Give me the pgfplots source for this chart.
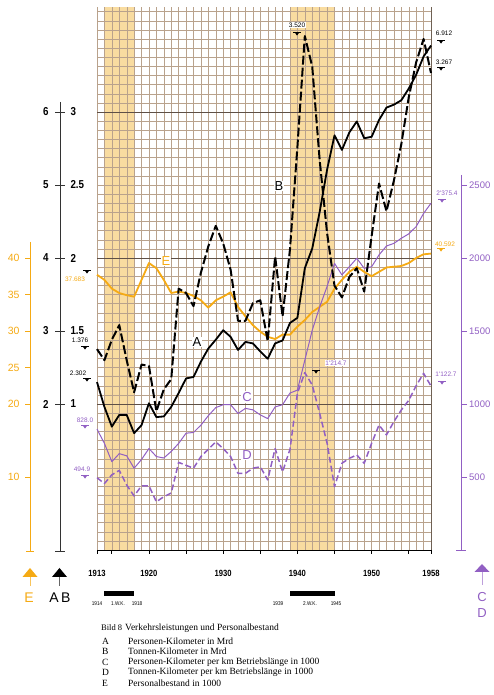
\documentclass[border=0pt]{standalone}
\usepackage{pgfplots}
\pgfplotsset{compat=1.18}
\usepackage{fontspec}
\setmainfont{Liberation Serif}
\setsansfont{Liberation Sans}
\newfontfamily\nf[FakeStretch=0.85]{Liberation Sans}
\newfontfamily\ssf{Liberation Sans}
\definecolor{eorange}{RGB}{245,170,20}
\definecolor{cpurple}{RGB}{145,95,195}
\definecolor{band}{RGB}{249,220,160}
\definecolor{gridc}{RGB}{185,162,140}
\definecolor{darkl}{RGB}{95,80,70}
\pgfplotsset{base/.style={scale only axis, width=334pt, height=543pt, at={(97pt,145pt)}, anchor=south west, xmin=1913, xmax=1958, clip=false}}
\newcommand{\mk}[3]{\begin{scope}[shift={(#1pt,#2pt)}]\draw[#3,line width=0.5pt](-4pt,2.2pt)--(4pt,2.2pt);\fill[#3](-2.3pt,1.6pt)--(2.3pt,1.6pt)--(0,-1.6pt)--cycle;\end{scope}}
\newcommand{\fs}[1]{\fontsize{#1}{#1}\selectfont}
\begin{document}
\begin{tikzpicture}[x=1pt,y=1pt]
\useasboundingbox (0,0) rectangle (493,695);
% bands
\begin{axis}[base, ymin=0, ymax=7.438, hide axis]
\fill[band] (axis cs:1914,0) rectangle (axis cs:1918,7.438);
\fill[band] (axis cs:1939,0) rectangle (axis cs:1945,7.438);
\end{axis}
% main grid
\begin{axis}[base, ymin=0, ymax=7.438, xtick={1913,1914,...,1958}, ytick={0,0.125,...,7.4}, xticklabels={}, yticklabels={}, major tick length=0pt, grid=major, major grid style={draw=gridc, line width=0.3pt}, axis line style={draw=none}]
\draw[darkl, line width=0.7pt] (axis cs:1913,2) -- (axis cs:1958,2);
\draw[darkl, line width=0.7pt] (axis cs:1913,4) -- (axis cs:1958,4);
\draw[darkl, line width=0.7pt] (axis cs:1913,6) -- (axis cs:1954.3,6);
\draw[gridc!60!black, line width=0.6pt] (axis cs:1958,0) -- (axis cs:1958,7.438);
\draw[black, line width=0.8pt] (axis cs:1913,0) -- (axis cs:1958,0);
\pgfplotsinvokeforeach{1913,1915,1920,1925,1930,1935,1940,1945,1950,1955,1958}{\draw[black, line width=0.8pt] (axis cs:#1,0) -- ([yshift=-4pt]axis cs:#1,0);}
\pgfplotsinvokeforeach{1913,1920,1930,1940,1950,1958}{\node[font=\nf\bfseries\fs{9}] at ([yshift=-23pt]axis cs:#1,0) {#1};}
\end{axis}
% E
\begin{axis}[base, ymin=0, ymax=74.38, hide axis]
\addplot[eorange, line width=1.8pt, line join=round] table {
1913 37.7
1914 37.0
1915 35.8
1916 35.2
1917 34.9
1918 34.7
1919 37.0
1920 39.3
1921 38.6
1922 37.0
1923 35.2
1924 35.4
1925 35.2
1926 34.8
1927 34.2
1928 33.2
1929 34.2
1930 34.7
1931 35.3
1932 33.3
1933 32.0
1934 30.8
1935 29.9
1936 29.2
1937 28.9
1938 29.5
1939 29.5
1940 30.6
1941 31.5
1942 32.6
1943 33.3
1944 34.0
1945 35.8
1946 37.0
1947 38.1
1948 38.8
1949 38.1
1950 37.5
1951 38.1
1952 38.7
1953 38.8
1954 38.9
1955 39.3
1956 40.0
1957 40.5
1958 40.6
};
\end{axis}
% C and D
\begin{axis}[base, ymin=0, ymax=3719, hide axis]
\addplot[cpurple, line width=1pt, line join=round] table {
1913 828
1914 730
1915 605
1916 660
1917 645
1918 560
1919 620
1920 695
1921 640
1922 630
1923 675
1924 730
1925 800
1926 805
1927 855
1928 920
1929 975
1930 995
1931 995
1932 935
1933 970
1934 960
1935 925
1936 900
1937 980
1938 995
1939 1075
1940 1095
1941 1300
1942 1505
1943 1665
1944 1805
1945 1963
1946 1884
1947 1940
1948 1998
1949 1929
1950 1940
1951 2021
1952 2082
1953 2100
1954 2135
1955 2165
1956 2215
1957 2305
1958 2375
};
\addplot[cpurple, line width=1.5pt, line join=round, dash pattern=on 6pt off 3pt] table {
1913 495
1914 455
1915 515
1916 545
1917 445
1918 370
1919 440
1920 440
1921 330
1922 365
1923 390
1924 600
1925 580
1926 560
1927 640
1928 690
1929 740
1930 695
1931 640
1932 525
1933 525
1934 560
1935 570
1936 480
1937 695
1938 535
1939 690
1940 1073
1941 1215
1942 1130
1943 936
1944 731
1945 434
1946 594
1947 628
1948 651
1949 594
1950 731
1951 856
1952 788
1953 879
1954 959
1955 1025
1956 1125
1957 1210
1958 1123
};
\end{axis}
% A
\begin{axis}[base, ymin=0, ymax=7.438, hide axis]
\addplot[black, line width=1.8pt, line join=round] table {
1913 2.30
1914 1.96
1915 1.69
1916 1.85
1917 1.85
1918 1.60
1919 1.71
1920 2.01
1921 1.82
1922 1.83
1923 1.96
1924 2.15
1925 2.35
1926 2.37
1927 2.58
1928 2.76
1929 2.88
1930 3.01
1931 2.92
1932 2.74
1933 2.85
1934 2.83
1935 2.72
1936 2.62
1937 2.83
1938 2.87
1939 3.11
1940 3.18
1941 3.86
1942 4.13
1943 4.63
1944 5.21
1945 5.68
1946 5.48
1947 5.72
1948 5.87
1949 5.64
1950 5.66
1951 5.89
1952 6.06
1953 6.10
1954 6.16
1955 6.32
1956 6.51
1957 6.76
1958 6.91
};
\end{axis}
% B
\begin{axis}[base, ymin=0, ymax=3.719, hide axis]
\addplot[black, line width=2pt, line join=round, dash pattern=on 9pt off 3pt] table {
1913 1.376
1914 1.30
1915 1.44
1916 1.54
1917 1.30
1918 1.08
1919 1.27
1920 1.26
1921 0.95
1922 1.10
1923 1.17
1924 1.79
1925 1.76
1926 1.67
1927 1.90
1928 2.08
1929 2.22
1930 2.10
1931 1.92
1932 1.57
1933 1.57
1934 1.69
1935 1.71
1936 1.43
1937 2.01
1938 1.60
1939 2.06
1940 2.76
1941 3.52
1942 3.31
1943 2.67
1944 2.17
1945 1.81
1946 1.73
1947 1.87
1948 1.93
1949 1.77
1950 2.15
1951 2.51
1952 2.32
1953 2.53
1954 2.78
1955 3.10
1956 3.34
1957 3.50
1958 3.267
};
\end{axis}
% in-plot letters
\node[fill=white, inner sep=1pt, text=eorange, font=\ssf\fs{13}] at (166,434) {E};
\node[fill=white, inner sep=1pt, font=\ssf\fs{13}] at (197,353) {A};
\node[fill=white, inner sep=1pt, font=\ssf\fs{13}] at (279,509) {B};
\node[fill=white, inner sep=1pt, text=cpurple, font=\ssf\fs{13}] at (247,298) {C};
\node[fill=white, inner sep=1pt, text=cpurple, font=\ssf\fs{13}] at (247,240) {D};
% left black axis (A and B)
\draw[black!80, line width=0.8pt] (60,593) -- (60,144);
\draw[black!80, line width=0.8pt] (55,144) -- (65,144);
\foreach \a/\b [count=\i from 2] in {2/1,3/1.5,4/2,5/2.5,6/3} {
  \draw[black!80, line width=0.8pt] (55,{145+73*\i}) -- (65,{145+73*\i});
  \node[anchor=east, font=\nf\bfseries\fs{11.5}] at (52,{145+73*\i}) {\a};
  \node[anchor=west, font=\nf\bfseries\fs{11.5}] at (67,{145+73*\i}) {\b};
}
% orange axis E
\draw[eorange, line width=0.8pt] (30,453) -- (30,144);
\draw[eorange, line width=0.8pt] (26,144) -- (34,144);
\foreach \e in {10,20,25,30,35,40} {
  \draw[eorange, line width=0.8pt] (25,{145+7.3*\e}) -- (30,{145+7.3*\e});
  \node[anchor=east, text=eorange, font=\ssf\fs{10.5}] at (23,{145+7.3*\e}) {\e};
}
% purple axis C D
\draw[cpurple, line width=0.8pt] (461,520) -- (461,145);
\draw[cpurple, line width=0.8pt] (456,145) -- (466,145);
\foreach \c in {500,1000,1500,2000,2500} {
  \draw[cpurple, line width=0.8pt] (461,{145+0.146*\c}) -- (467,{145+0.146*\c});
  \node[anchor=west, inner sep=1pt, text=cpurple, font=\ssf\fs{9.5}] at (468,{145+0.146*\c}) {\c};
}
% arrows
\fill[eorange] (22.5,118) -- (37.5,118) -- (30,127) -- cycle;
\draw[eorange!70, line width=0.8pt] (30,118) -- (30,109);
\node[text=eorange, font=\ssf\fs{14}] at (29,97) {E};
\fill[black] (52,118) -- (67,118) -- (59.5,127) -- cycle;
\draw[black!60, line width=0.8pt] (59.5,118) -- (59.5,109);
\node[font=\ssf\fs{14}] at (60,97) {A\,B};
\fill[cpurple] (474.5,123) -- (489.5,123) -- (482,131) -- cycle;
\draw[cpurple!60, line width=0.8pt] (482,123) -- (482,110);
\node[text=cpurple, font=\ssf\fs{13}] at (482,98) {C};
\node[text=cpurple, font=\ssf\fs{13}] at (482,82) {D};
% war bars
\fill[black] (104.4,99) rectangle (134.1,104);
\fill[black] (290,99) rectangle (334.5,104);
\node[font=\nf\fs{5.5}] at (97,91) {1914};
\node[font=\nf\fs{5.5}] at (118,91) {1.W.K.};
\node[font=\nf\fs{5.5}] at (137,91) {1918};
\node[font=\nf\fs{5.5}] at (278,91) {1939};
\node[font=\nf\fs{5.5}] at (310,91) {2.W.K.};
\node[font=\nf\fs{5.5}] at (336,91) {1945};
% caption
\node[anchor=west, inner sep=0pt, font=\fs{8.5}] at (101,67) {Bild 8};
\node[anchor=west, inner sep=0pt, font=\fs{9.5}] at (125,67) {Verkehrsleistungen und Personalbestand};
\foreach \l/\t/\y in {A/Personen-Kilometer in Mrd/54, B/Tonnen-Kilometer in Mrd/44, C/Personen-Kilometer per km Betriebslänge in 1000/33, D/Tonnen-Kilometer per km Betriebslänge in 1000/23, E/Personalbestand in 1000/12} {
  \node[anchor=west, inner sep=0pt, font=\fs{9.5}] at (102,\y) {\l};
  \node[anchor=west, inner sep=0pt, font=\fs{9.5}] at (128,\y) {\t};
}
% value annotations
\node[text=eorange, font=\ssf\fs{6.5}] at (75,416) {37.683}; \mk{87}{423}{black}
\node[font=\ssf\fs{6.5}] at (80,355) {1.376}; \mk{85}{347}{black}
\node[font=\ssf\fs{6.5}] at (78,322) {2.302}; \mk{87}{315}{black}
\node[text=cpurple, font=\ssf\fs{6.5}] at (85,275) {828.0}; \mk{85}{268}{cpurple}
\node[text=cpurple, font=\ssf\fs{6.5}] at (82,226) {494.9}; \mk{85}{218}{cpurple}
\node[fill=white, inner sep=0.5pt, font=\ssf\fs{6.5}] at (297,670) {3.520}; \mk{297}{661}{black}
\node[fill=white, inner sep=0.5pt, text=cpurple, font=\ssf\fs{6.5}] at (336,332) {1'214.7}; \mk{316}{323}{black}
\node[font=\ssf\fs{6.5}] at (444,662) {6.912}; \mk{441}{653}{black}
\node[font=\ssf\fs{6.5}] at (444,633) {3.267}; \mk{441}{626}{black}
\node[text=cpurple, font=\ssf\fs{6.5}] at (447,502) {2'375.4}; \mk{442}{494}{cpurple}
\node[text=eorange, font=\ssf\fs{6.5}] at (445,451) {40.592}; \mk{441}{445}{eorange}
\node[text=cpurple, font=\ssf\fs{6.5}] at (446,321) {1'122.7}; \mk{442}{312}{cpurple}
\end{tikzpicture}
\end{document}
